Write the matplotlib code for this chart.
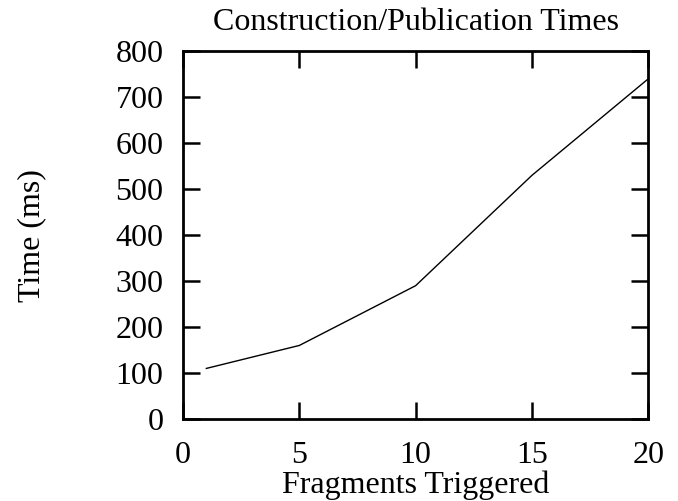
import matplotlib
matplotlib.use("Agg")
import matplotlib.pyplot as plt

fragments = [1, 5, 10, 15, 20]
times_ms = [110, 160, 290, 530, 740]
x_ticks = [0, 5, 10, 15, 20]
y_ticks = [0, 100, 200, 300, 400, 500, 600, 700, 800]

plt.rcParams['font.family'] = ['Liberation Serif', 'DejaVu Serif']

fig = plt.figure(figsize=(6.78, 5.01), dpi=100)
ax = fig.add_axes([0.270, 0.1637, 0.686, 0.7339])
ax.plot(fragments, times_ms, color='black', linewidth=1.0)
ax.set_xlim(0, 20)
ax.set_ylim(0, 800)
ax.set_xticks(x_ticks)
ax.set_yticks(y_ticks)
ax.tick_params(direction='in', length=12, width=1.8, labelsize=23,
               top=True, right=True)
ax.tick_params(axis='x', pad=16)
ax.tick_params(axis='y', pad=14)
for s in ax.spines.values():
    s.set_linewidth(2.0)
ax.set_title('Construction/Publication Times', fontsize=23, pad=15)
ax.set_xlabel('Fragments Triggered', fontsize=23, labelpad=0)
ax.set_ylabel('Time (ms)', fontsize=23, labelpad=50)
fig.savefig('out.png', dpi=100)
